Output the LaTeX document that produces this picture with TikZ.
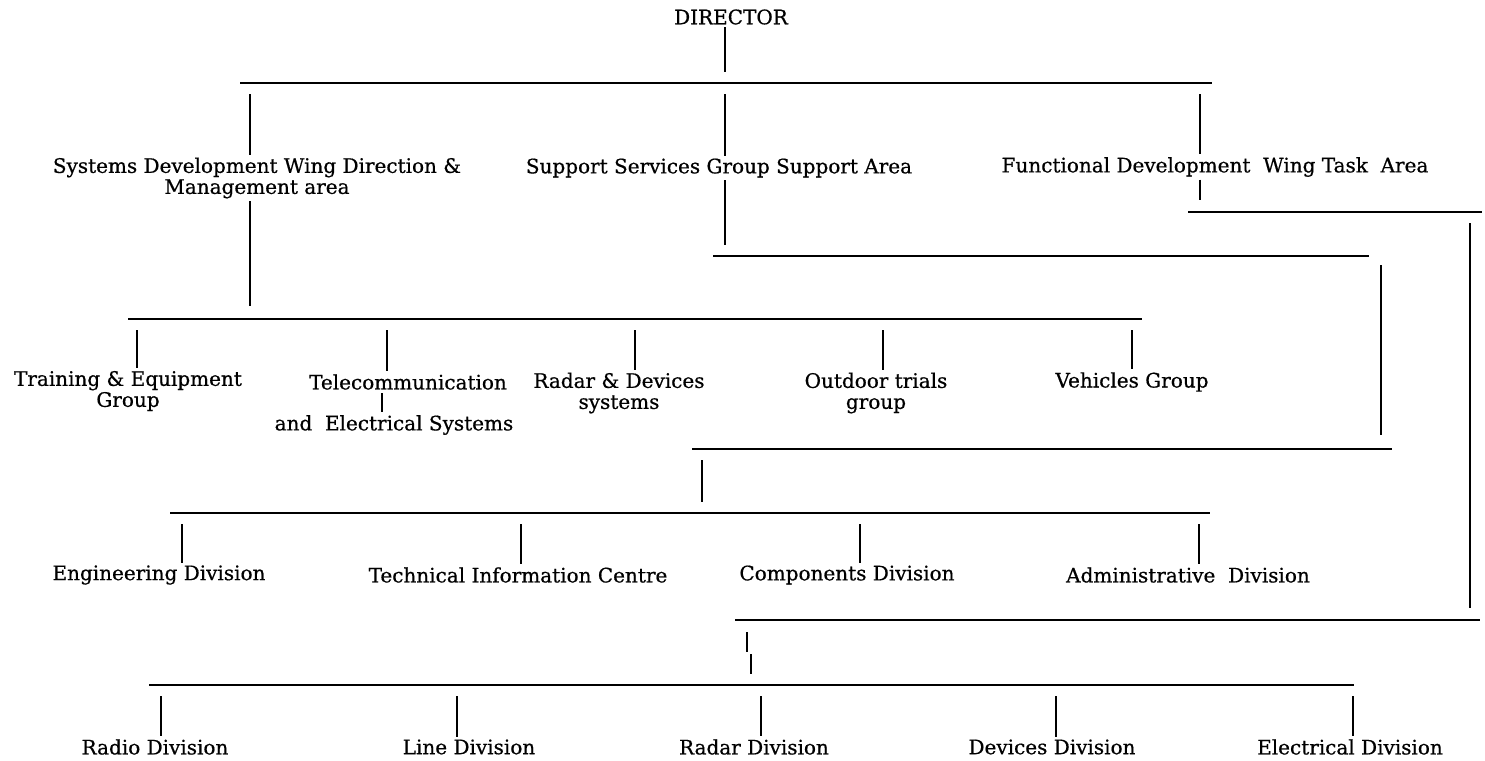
\documentclass[tikz,border=0pt]{standalone}
\usepackage{fontspec}
\setmainfont{DejaVu Serif}[FakeBold=0.6]
\begin{document}
\begin{tikzpicture}[x=0.5pt,y=-0.5pt,line width=0.9pt,
  unit/.style={inner sep=1pt,align=center,font=\fontsize{10}{10.5}\selectfont}]
\useasboundingbox (0,0) rectangle (1485,761);

% director
\node[unit] (director) at (731,17) {DIRECTOR};
\coordinate (dirfoot) at (725,72);
\draw (dirfoot |- director.south) -- (dirfoot);
\coordinate (barA-l) at (240,83);
\coordinate (barA-r) at (1212,83);
\draw (barA-l) -- (barA-r);

% the three wings
\foreach \name/\cx/\cy/\dx/\dy/\txt in {
    sysdev/257/178/250/306/{Systems Development Wing Direction \&\\Management area},
    support/719/168/725/245/{Support Services Group Support Area},
    functional/1215/167/1200/200/{Functional Development\ \ Wing Task\ \ Area}}{
  \node[unit] (\name) at (\cx,\cy) {\txt};
  \coordinate (\name-top) at (\dx,94);
  \coordinate (\name-foot) at (\dx,\dy);
  \draw (\name-top) -- (\name-top |- \name.north);
  \draw (\name-foot |- \name.south) -- (\name-foot);
}

% systems development groups
\coordinate (barB-l) at (128,319);
\coordinate (barB-r) at (1142,319);
\draw (barB-l) -- (barB-r);
\foreach \name/\cx/\cy/\dx/\txt in {
    training/128/391/137/{Training \& Equipment\\Group},
    telecom/408/382/387/{Telecommunication},
    radardev/619/393/635/{Radar \& Devices\\systems},
    outdoor/876/393/883/{Outdoor trials\\group},
    vehicles/1132/382/1132/{Vehicles Group}}{
  \node[unit] (\name) at (\cx,\cy) {\txt};
  \coordinate (\name-top) at (\dx,330);
  \draw (\name-top) -- (\name-top |- \name.north);
}
\node[unit] (telecomb) at (394,425) {and\ \ Electrical Systems};
\coordinate (telecomb-top) at (382,393);
\draw (telecomb-top) -- (telecomb-top |- telecomb.north);

% support services
\coordinate (barC-l) at (713,256);
\coordinate (barC-r) at (1369,256);
\draw (barC-l) -- (barC-r);
\coordinate (supdrop-top) at (1381,265);
\coordinate (supdrop-foot) at (1381,435);
\draw (supdrop-top) -- (supdrop-foot);
\coordinate (barD-l) at (692,449);
\coordinate (barD-r) at (1392,449);
\draw (barD-l) -- (barD-r);
\coordinate (divdrop-top) at (702,460);
\coordinate (divdrop-foot) at (702,502);
\draw (divdrop-top) -- (divdrop-foot);
\coordinate (barE-l) at (170,513);
\coordinate (barE-r) at (1210,513);
\draw (barE-l) -- (barE-r);
\foreach \name/\cx/\dx/\txt in {
    engineering/159/182/{Engineering Division},
    techinfo/518/521/{Technical Information Centre},
    components/847/860/{Components Division},
    admin/1188/1199/{Administrative\ \ Division}}{
  \node[unit] (\name) at (\cx,575) {\txt};
  \coordinate (\name-top) at (\dx,524);
  \draw (\name-top) -- (\name-top |- \name.north);
}

% functional development
\coordinate (barF-l) at (1188,212);
\coordinate (barF-r) at (1482,212);
\draw (barF-l) -- (barF-r);
\coordinate (fundrop-top) at (1470,223);
\coordinate (fundrop-foot) at (1470,608);
\draw (fundrop-top) -- (fundrop-foot);
\coordinate (barG-l) at (735,620);
\coordinate (barG-r) at (1480,620);
\draw (barG-l) -- (barG-r);
\coordinate (taskdrop-top) at (747,632);
\coordinate (taskdrop-mid) at (751,654);
\coordinate (taskdrop-foot) at (751,674);
\draw (taskdrop-top) -- ++(0,20);
\draw (taskdrop-mid) -- (taskdrop-foot);
\coordinate (barH-l) at (149,685);
\coordinate (barH-r) at (1354,685);
\draw (barH-l) -- (barH-r);
\foreach \name/\cx/\dx/\txt in {
    radio/155/161/{Radio Division},
    line/469/457/{Line Division},
    radar/754/761/{Radar Division},
    devices/1052/1056/{Devices Division},
    electrical/1350/1353/{Electrical Division}}{
  \node[unit] (\name) at (\cx,747) {\txt};
  \coordinate (\name-top) at (\dx,696);
  \draw (\name-top) -- (\name-top |- \name.north);
}
\end{tikzpicture}
\end{document}
